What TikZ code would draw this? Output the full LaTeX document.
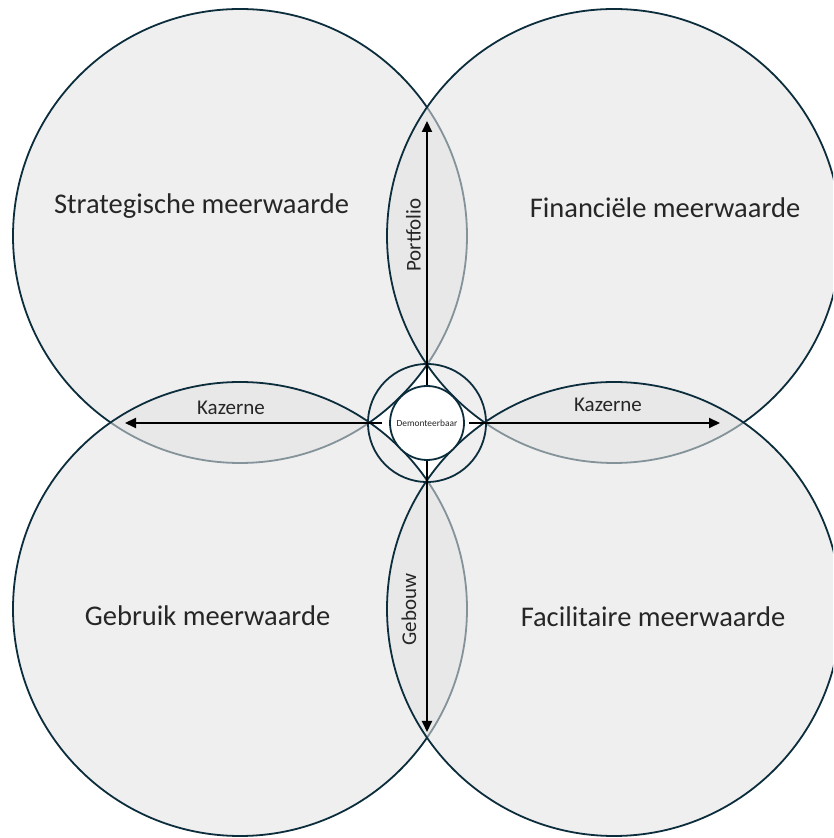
\documentclass[tikz,border=0pt]{standalone}
\usepackage{fontspec}
\setmainfont{Carlito}
\usetikzlibrary{arrows.meta}
\definecolor{ringline}{RGB}{12,45,60}
\definecolor{disc}{RGB}{226,226,226}
\definecolor{labeltext}{RGB}{38,38,38}
\begin{document}
\begin{tikzpicture}[x=1pt,y=1pt,
  value/.style={circle, draw=ringline, line width=1.8pt, fill=disc,
    fill opacity=0.56, minimum size=454pt, inner sep=0pt},
  ring/.style={circle, draw=ringline, line width=1.8pt, inner sep=0pt},
  bigtext/.style={text=labeltext, font=\fontsize{28.5}{30}\selectfont, inner sep=0pt},
  axistext/.style={text=labeltext, font=\fontsize{21}{23}\selectfont, inner sep=0pt},
  arr/.style={line width=2pt, draw=black, -{Triangle[length=11pt,width=10pt]}}]
\useasboundingbox (0,0) rectangle (833,838);
\clip (0,0) rectangle (833,838);

% four value circles, drawn in this order so the later fills veil earlier rims
\node[value] (tl) at (240,602) {};
\node[value] (tr) at (614,602) {};
\node[value] (bl) at (240,229) {};
\node[value] (br) at (614,229) {};

% central rings
\node[ring, minimum size=118pt] (hub) at (427,415) {};
\node[ring, minimum size=74pt, fill=white, text=labeltext,
      font=\fontsize{9.4}{10}\selectfont] (core) at (427,415) {Demonteerbaar};

% arrow ends
\coordinate (ptop) at (427,717);
\coordinate (pbottom) at (427,106);
\coordinate (pleft) at (125,415);
\coordinate (pright) at (720,415);

\draw[arr] (core.north) -- (ptop);
\draw[arr] (core.south) -- (pbottom);
\draw[arr, shorten <=7pt] (core.west) -- (pleft);
\draw[arr, shorten <=4pt] (core.east) -- (pright);

% labels
\node[bigtext] (strat) at (201.5,632) {Strategische meerwaarde};
\node[bigtext] (fin) at (665,630) {Financiële meerwaarde};
\node[bigtext] (gebr) at (207.5,222) {Gebruik meerwaarde};
\node[bigtext] (fac) at (653,221) {Facilitaire meerwaarde};

\node[axistext] (kazl) at (231,430) {Kazerne};
\node[axistext] (kazr) at (608,433) {Kazerne};
\node[axistext, rotate=90] (port) at (413.5,603) {Portfolio};
\node[axistext, rotate=90] (gebouw) at (409,228.5) {Gebouw};
\end{tikzpicture}
\end{document}
